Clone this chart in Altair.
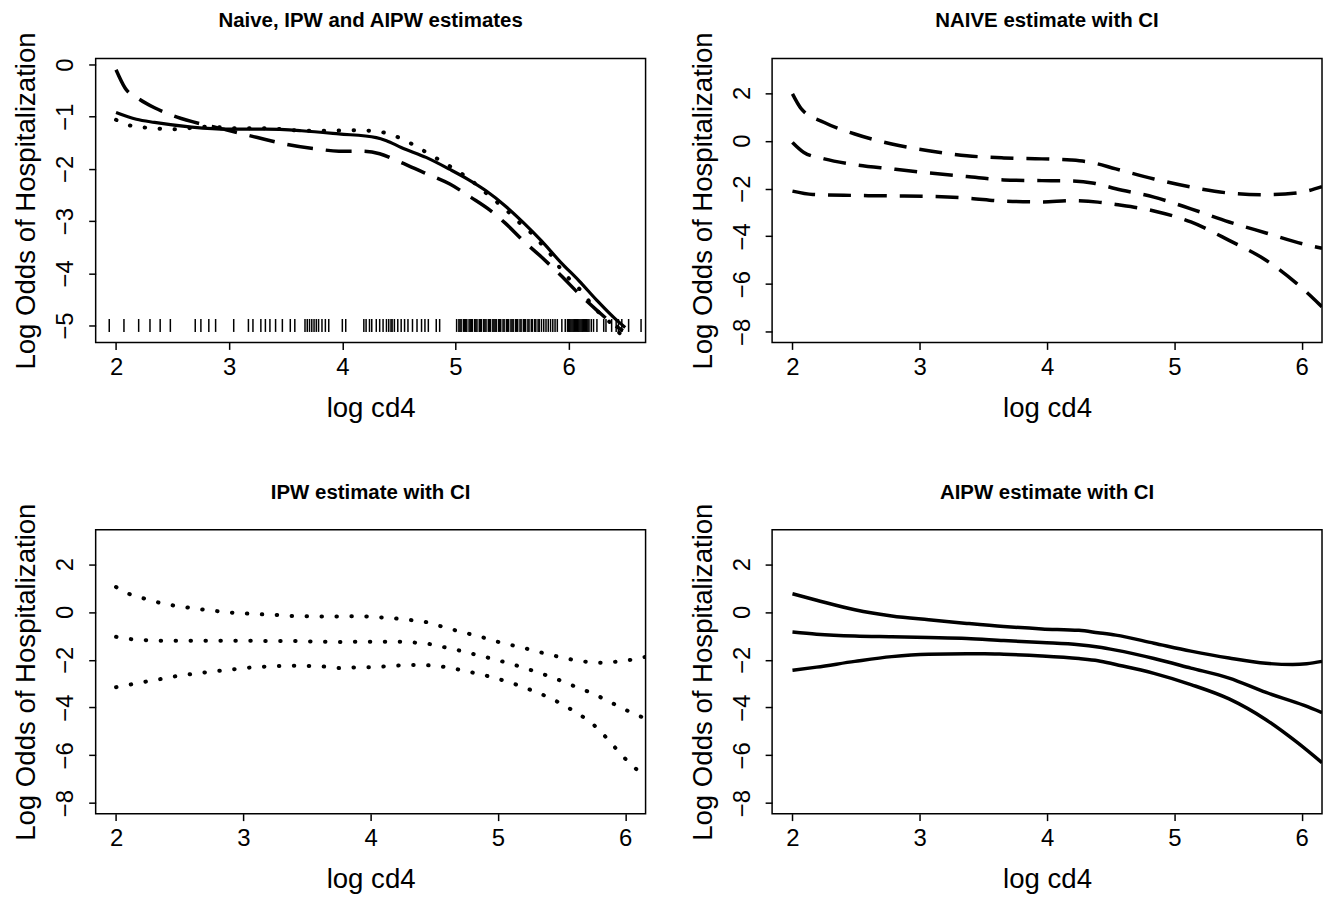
import altair as alt
import pandas as pd

FONT = "Liberation Sans"

# ---------- Panel 1: Naive, IPW and AIPW estimates ----------
p1_aipw_x = [2.00, 2.18, 2.34, 2.67, 2.99, 3.32, 3.64, 3.97, 4.30, 4.39, 4.52, 4.74, 4.95, 5.11, 5.27, 5.44, 5.60, 5.76, 5.93, 6.09, 6.25, 6.41, 6.50]
p1_aipw_y = [-0.92, -1.05, -1.11, -1.20, -1.24, -1.24, -1.27, -1.33, -1.40, -1.46, -1.59, -1.78, -2.01, -2.20, -2.42, -2.71, -3.03, -3.38, -3.79, -4.14, -4.52, -4.87, -5.04]

p1_naive_x = [2.00, 2.08, 2.21, 2.34, 2.54, 2.77, 2.99, 3.25, 3.51, 3.78, 3.97, 4.17, 4.33, 4.49, 4.72, 4.95, 5.14, 5.31, 5.44, 5.60, 5.76, 5.93, 6.09, 6.25, 6.41, 6.48]
p1_naive_y = [-0.10, -0.45, -0.67, -0.83, -1.01, -1.15, -1.26, -1.40, -1.53, -1.62, -1.66, -1.66, -1.71, -1.85, -2.07, -2.29, -2.55, -2.80, -3.04, -3.38, -3.69, -4.04, -4.39, -4.71, -5.00, -5.10]

p1_ipw_x = [2.00, 2.11, 2.26, 2.39, 2.52, 2.81, 3.06, 3.32, 3.58, 3.84, 4.10, 4.25, 4.38, 4.50, 4.62, 4.74, 4.85, 5.08, 5.19, 5.29, 5.39, 5.49, 5.58, 5.68, 5.78, 5.86, 5.93, 6.02, 6.12, 6.20, 6.28, 6.38, 6.47]
p1_ipw_y = [-1.06, -1.16, -1.21, -1.23, -1.24, -1.19, -1.22, -1.22, -1.26, -1.27, -1.26, -1.27, -1.31, -1.40, -1.53, -1.68, -1.82, -2.13, -2.31, -2.50, -2.68, -2.87, -3.06, -3.25, -3.49, -3.69, -3.92, -4.14, -4.36, -4.59, -4.78, -4.97, -5.20]

rug_x = [1.94, 2.07, 2.20, 2.30, 2.39, 2.48, 2.70, 2.75, 2.82, 2.88, 3.04, 3.17, 3.21, 3.28, 3.32, 3.36,
         3.41, 3.47, 3.54, 3.58, 3.67, 3.69, 3.71, 3.73, 3.75, 3.77, 3.79, 3.82, 3.85, 3.88, 4.00, 4.03,
         4.19, 4.21, 4.24, 4.26, 4.30, 4.33, 4.36, 4.39, 4.41, 4.43, 4.44, 4.46, 4.49, 4.52, 4.55, 4.58,
         4.62, 4.66, 4.70, 4.73, 4.76, 4.83, 4.86,
         5.01, 5.03, 5.04, 5.05, 5.07, 5.08, 5.09, 5.10, 5.12, 5.13, 5.14, 5.15, 5.17, 5.18, 5.19, 5.21,
         5.22, 5.23, 5.25, 5.26, 5.27, 5.29, 5.30, 5.31, 5.33, 5.34, 5.35, 5.36, 5.38, 5.39, 5.40, 5.42,
         5.43, 5.45, 5.46, 5.47, 5.49, 5.50, 5.51, 5.53, 5.54, 5.55, 5.57, 5.58, 5.60, 5.61, 5.62, 5.64,
         5.65, 5.67, 5.68, 5.70, 5.71, 5.73, 5.74, 5.76, 5.78, 5.80, 5.82, 5.84, 5.86, 5.88, 5.90, 5.94,
         5.97, 5.99, 6.00, 6.01, 6.02, 6.03, 6.04, 6.05, 6.06, 6.07, 6.08, 6.09, 6.10, 6.11, 6.12, 6.13,
         6.14, 6.15, 6.16, 6.17, 6.18, 6.20, 6.22, 6.25, 6.31, 6.33, 6.38, 6.42, 6.44, 6.47, 6.53, 6.64]
rug_level = -5

# ---------- Panel 2: NAIVE estimate with CI ----------
p2_up_x = [2.00, 2.07, 2.25, 2.49, 2.78, 3.07, 3.37, 3.66, 3.96, 4.19, 4.34, 4.54, 4.84, 5.13, 5.43, 5.72, 5.96, 6.16]
p2_up_y = [1.96, 1.33, 0.76, 0.28, -0.14, -0.42, -0.63, -0.72, -0.76, -0.81, -0.90, -1.18, -1.60, -1.94, -2.19, -2.26, -2.19, -1.92]
p2_mid_x = [2.00, 2.09, 2.25, 2.49, 2.78, 3.07, 3.37, 3.66, 3.96, 4.19, 4.37, 4.54, 4.84, 5.13, 5.43, 5.72, 6.02, 6.16]
p2_mid_y = [-0.07, -0.49, -0.76, -1.00, -1.18, -1.35, -1.50, -1.64, -1.67, -1.68, -1.78, -2.01, -2.36, -2.85, -3.40, -3.86, -4.33, -4.50]
p2_lo_x = [2.00, 2.16, 2.49, 2.78, 3.07, 3.37, 3.66, 3.96, 4.19, 4.40, 4.54, 4.84, 5.13, 5.43, 5.72, 5.96, 6.10, 6.16]
p2_lo_y = [-2.11, -2.25, -2.29, -2.31, -2.33, -2.40, -2.53, -2.56, -2.51, -2.57, -2.67, -2.94, -3.40, -4.17, -5.00, -5.97, -6.64, -6.95]

# ---------- Panel 3: IPW estimate with CI ----------
p3_up_x = [2.00, 2.10, 2.22, 2.33, 2.44, 2.57, 2.68, 2.80, 2.91, 3.03, 3.15, 3.27, 3.39, 3.51, 3.62, 3.74, 3.86, 3.98, 4.10, 4.21, 4.33, 4.45, 4.57, 4.68, 4.79, 4.91, 5.02, 5.14, 5.25, 5.37, 5.48, 5.60, 5.72, 5.83, 5.95, 6.06, 6.16]
p3_up_y = [1.04, 0.76, 0.56, 0.40, 0.28, 0.18, 0.10, 0.03, -0.03, -0.07, -0.10, -0.13, -0.17, -0.18, -0.19, -0.19, -0.18, -0.19, -0.24, -0.28, -0.35, -0.44, -0.63, -0.79, -0.94, -1.11, -1.28, -1.43, -1.57, -1.74, -1.88, -2.01, -2.10, -2.13, -2.07, -1.99, -1.88]
p3_mid_x = [2.00, 2.12, 2.23, 2.35, 2.47, 2.59, 3.00, 3.40, 3.65, 3.77, 3.89, 4.01, 4.12, 4.24, 4.36, 4.48, 4.59, 4.71, 4.82, 4.94, 5.06, 5.17, 5.28, 5.39, 5.50, 5.61, 5.72, 5.83, 5.94, 6.04, 6.15]
p3_mid_y = [-1.04, -1.14, -1.18, -1.21, -1.21, -1.21, -1.21, -1.22, -1.25, -1.26, -1.25, -1.25, -1.25, -1.25, -1.29, -1.36, -1.49, -1.63, -1.78, -1.94, -2.11, -2.28, -2.47, -2.67, -2.89, -3.13, -3.36, -3.63, -3.93, -4.19, -4.44]
p3_lo_x = [2.00, 2.12, 2.23, 2.35, 2.47, 2.58, 2.70, 2.82, 2.94, 3.05, 3.17, 3.29, 3.41, 3.52, 3.64, 3.76, 3.88, 4.00, 4.12, 4.23, 4.35, 4.47, 4.59, 4.70, 4.82, 4.94, 5.05, 5.16, 5.27, 5.38, 5.49, 5.59, 5.69, 5.78, 5.86, 5.94, 6.02, 6.11, 6.16]
p3_lo_y = [-3.15, -3.03, -2.92, -2.81, -2.69, -2.61, -2.53, -2.46, -2.39, -2.33, -2.29, -2.26, -2.25, -2.26, -2.29, -2.35, -2.32, -2.31, -2.28, -2.24, -2.22, -2.24, -2.31, -2.42, -2.56, -2.71, -2.88, -3.07, -3.29, -3.53, -3.82, -4.13, -4.47, -4.86, -5.31, -5.79, -6.25, -6.69, -6.95]

# ---------- Panel 4: AIPW estimate with CI ----------
p4_up_x = [2.00, 2.19, 2.49, 2.78, 3.07, 3.37, 3.66, 3.96, 4.25, 4.40, 4.54, 4.84, 5.13, 5.43, 5.72, 5.93, 6.04, 6.16]
p4_up_y = [0.76, 0.49, 0.09, -0.17, -0.33, -0.48, -0.61, -0.71, -0.77, -0.87, -0.97, -1.31, -1.64, -1.93, -2.15, -2.20, -2.17, -2.07]
p4_mid_x = [2.00, 2.19, 2.49, 2.78, 3.07, 3.37, 3.66, 3.96, 4.25, 4.40, 4.54, 4.84, 5.13, 5.43, 5.72, 6.02, 6.16]
p4_mid_y = [-0.84, -0.93, -1.01, -1.04, -1.07, -1.11, -1.20, -1.28, -1.37, -1.47, -1.60, -1.95, -2.35, -2.77, -3.37, -3.91, -4.21]
p4_lo_x = [2.00, 2.19, 2.49, 2.78, 3.07, 3.37, 3.51, 3.66, 3.96, 4.25, 4.40, 4.54, 4.84, 5.13, 5.43, 5.72, 5.96, 6.16]
p4_lo_y = [-2.44, -2.31, -2.07, -1.87, -1.77, -1.75, -1.75, -1.77, -1.84, -1.95, -2.04, -2.20, -2.57, -3.04, -3.64, -4.51, -5.44, -6.31]

x_ticks = [2, 3, 4, 5, 6]
p1_y_ticks = [-5, -4, -3, -2, -1, 0]
ci_y_ticks = [-8, -6, -4, -2, 0, 2]
p1_x_domain = [1.82, 6.68]
p1_y_domain = [-5.325, 0.115]
ci_x_domain = [1.84, 6.16]
ci_y_domain = [-8.44, 3.44]

PW, PH = 552, 285
LW = 3.5
DASH1 = [26, 13]
DASH2 = [23, 13]
DOT = [0.5, 14.5]


def df(xs, ys):
    return pd.DataFrame({"x": xs, "y": ys})


def encs(xdom, ydom, yticks):
    x = alt.X("x:Q", scale=alt.Scale(domain=xdom, nice=False, zero=False),
              axis=alt.Axis(values=x_ticks, title="log cd4", format="d",
                            labelBaseline="alphabetic", labelPadding=25,
                            titleY=74, titleBaseline="alphabetic"))
    y = alt.Y("y:Q", scale=alt.Scale(domain=ydom, nice=False, zero=False),
              axis=alt.Axis(values=yticks, title="Log Odds of Hospitalization", format="d",
                            labelAngle=-90, labelBaseline="alphabetic", labelAlign="center",
                            labelPadding=16, titleX=-61, titleY=PH / 2,
                            titleBaseline="alphabetic", titleAngle=270))
    return x, y


def line(xs, ys, xdom, ydom, yticks, dash=None, width=LW):
    x, y = encs(xdom, ydom, yticks)
    kw = dict(color="black", strokeWidth=width, clip=True, interpolate="monotone",
              strokeCap="round" if dash == DOT else "butt")
    if dash is not None:
        kw["strokeDash"] = dash
    return alt.Chart(df(xs, ys)).mark_line(**kw).encode(x=x, y=y)


def titled(layer, text):
    return layer.properties(
        width=PW, height=PH,
        title=alt.TitleParams(text=text, font=FONT, fontSize=20.5, fontWeight="bold",
                              anchor="middle", frame="group", baseline="alphabetic",
                              offset=-16, color="black"))


# Panel 1
x1, y1 = encs(p1_x_domain, p1_y_domain, p1_y_ticks)
rug = alt.Chart(pd.DataFrame({"x": rug_x, "y": [rug_level] * len(rug_x)})).mark_tick(
    orient="vertical", color="black", size=13, thickness=1.5, opacity=1).encode(x=x1, y=y1)
panel1 = titled(alt.layer(
    line(p1_aipw_x, p1_aipw_y, p1_x_domain, p1_y_domain, p1_y_ticks, width=3.2),
    line(p1_naive_x, p1_naive_y, p1_x_domain, p1_y_domain, p1_y_ticks, dash=DASH1),
    line(p1_ipw_x, p1_ipw_y, p1_x_domain, p1_y_domain, p1_y_ticks, dash=DOT, width=4),
    rug,
), "Naive, IPW and AIPW estimates")

panel2 = titled(alt.layer(
    line(p2_up_x, p2_up_y, ci_x_domain, ci_y_domain, ci_y_ticks, dash=DASH2),
    line(p2_mid_x, p2_mid_y, ci_x_domain, ci_y_domain, ci_y_ticks, dash=DASH2),
    line(p2_lo_x, p2_lo_y, ci_x_domain, ci_y_domain, ci_y_ticks, dash=DASH2),
), "NAIVE estimate with CI")

panel3 = titled(alt.layer(
    line(p3_up_x, p3_up_y, ci_x_domain, ci_y_domain, ci_y_ticks, dash=DOT, width=4),
    line(p3_mid_x, p3_mid_y, ci_x_domain, ci_y_domain, ci_y_ticks, dash=DOT, width=4),
    line(p3_lo_x, p3_lo_y, ci_x_domain, ci_y_domain, ci_y_ticks, dash=DOT, width=4),
), "IPW estimate with CI")

panel4 = titled(alt.layer(
    line(p4_up_x, p4_up_y, ci_x_domain, ci_y_domain, ci_y_ticks),
    line(p4_mid_x, p4_mid_y, ci_x_domain, ci_y_domain, ci_y_ticks),
    line(p4_lo_x, p4_lo_y, ci_x_domain, ci_y_domain, ci_y_ticks),
), "AIPW estimate with CI")

chart = alt.vconcat(
    alt.hconcat(panel1, panel2, spacing=42),
    alt.hconcat(panel3, panel4, spacing=42),
    spacing=58,
).properties(
    padding={"left": 4, "top": 0, "right": 2, "bottom": 2},
    background="white",
).configure_view(
    stroke="black", strokeWidth=1.5
).configure_axis(
    domain=False, grid=False, ticks=True, tickColor="black", tickWidth=1.5, tickSize=7,
    labelFont=FONT, labelFontSize=24, labelColor="black", labelOverlap=False, labelFlush=False,
    titleFont=FONT, titleFontSize=27.7, titleFontWeight="normal", titleColor="black",
)

chart.save("out.html", embed_options={"renderer": "svg", "actions": False})
